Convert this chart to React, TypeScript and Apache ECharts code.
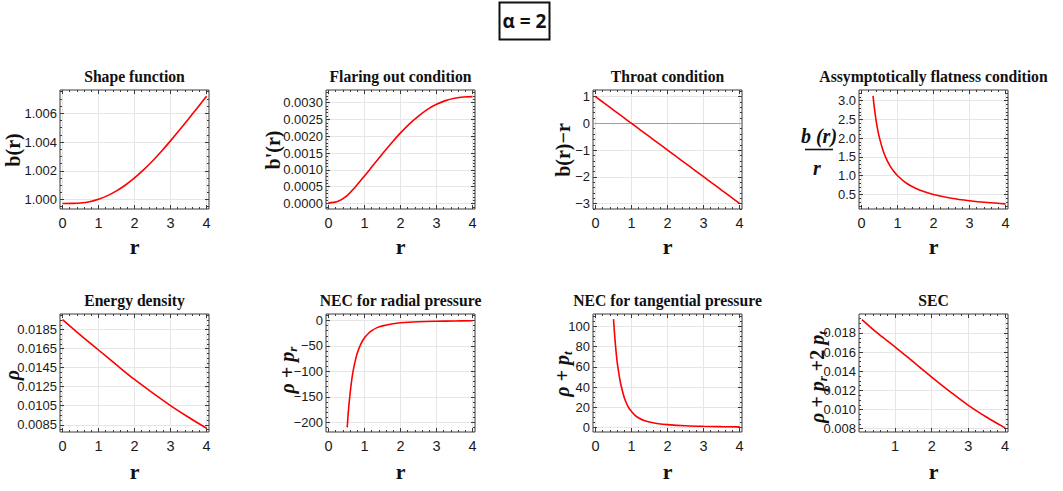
import React, { useEffect, useRef } from 'react';
import * as echarts from 'echarts';

// ---------- data ----------
const R_GRID = [0, 0.25, 0.5, 0.75, 1, 1.25, 1.5, 1.75, 2, 2.25, 2.5, 2.75, 3, 3.25, 3.5, 3.75, 4];
const shapeValues = [0.99972, 0.99973, 0.99976, 0.99985, 1.00002, 1.00027, 1.0006, 1.00101, 1.0015, 1.00206, 1.00268, 1.00336, 1.00408, 1.00483, 1.0056, 1.00639, 1.00718];
const flareValues = [0.00002, 0.00006, 0.00022, 0.0005, 0.00082, 0.00115, 0.00148, 0.0018, 0.0021, 0.00237, 0.0026, 0.0028, 0.00295, 0.00306, 0.00313, 0.00317, 0.00318];
const throatValues = [0.9997, 0.7497, 0.4998, 0.2499, 0.0, -0.2497, -0.4994, -0.749, -0.9985, -1.2479, -1.4973, -1.7466, -1.9959, -2.2452, -2.4944, -2.7436, -2.9928];
const flatR = [0.32, 0.35, 0.4, 0.45, 0.5, 0.6, 0.7, 0.8, 0.9, 1, 1.25, 1.5, 1.75, 2, 2.5, 3, 3.5, 4];
const flatValues = [3.124, 2.856, 2.499, 2.222, 2.0, 1.666, 1.428, 1.25, 1.111, 1.0, 0.8, 0.667, 0.572, 0.501, 0.401, 0.335, 0.287, 0.252];
const rhoR = [0, 0.5, 1, 1.5, 2, 2.5, 3, 3.5, 4];
const rhoValues = [0.01956, 0.01793, 0.01636, 0.01479, 0.01326, 0.01186, 0.01052, 0.00929, 0.00814];
const necRadR = [0.52, 0.55, 0.6, 0.65, 0.7, 0.8, 0.9, 1.0, 1.1, 1.2, 1.35, 1.5, 1.75, 2, 2.5, 3, 3.5, 4];
const necRadValues = [-210, -180, -143, -114, -93, -64, -46, -34, -26, -20, -14, -10.5, -6.8, -4.4, -2.4, -1.4, -0.9, -0.6];
const necTanR = [0.5, 0.55, 0.6, 0.65, 0.7, 0.8, 0.9, 1.0, 1.1, 1.2, 1.35, 1.5, 1.75, 2, 2.5, 3, 3.5, 4];
const necTanValues = [107, 83, 65, 53, 43, 29.5, 21, 15.8, 12, 9.5, 7, 5.5, 3.9, 3.0, 1.9, 1.3, 1.0, 0.8];
const secR = [0.1, 0.5, 1, 1.5, 2, 2.5, 3, 3.5, 4];
const secValues = [0.0194, 0.01806, 0.01656, 0.01498, 0.0134, 0.01188, 0.01044, 0.0092, 0.00809];

// tick labels
const xTicks = [0, 1, 2, 3, 4];
const secXTicks = [1, 2, 3, 4];
const shapeTicks = [1.0, 1.002, 1.004, 1.006];
const flareTicks = [0, 0.0005, 0.001, 0.0015, 0.002, 0.0025, 0.003];
const throatTicks = [-3, -2, -1, 0, 1];
const flatTicks = [0.5, 1.0, 1.5, 2.0, 2.5, 3.0];
const rhoTicks = [0.0085, 0.0105, 0.0125, 0.0145, 0.0165, 0.0185];
const necRadTicks = [-200, -150, -100, -50, 0];
const necTanTicks = [0, 20, 40, 60, 80, 100];
const secTicks = [0.008, 0.01, 0.012, 0.014, 0.016, 0.018];

const titles = [
  'Shape function',
  'Flaring out condition',
  'Throat condition',
  'Assymptotically flatness condition',
  'Energy density',
  'NEC for radial pressure',
  'NEC for tangential pressure',
  'SEC',
];

// ---------- layout / style ----------
const LEFTS = [60, 326, 593, 859];
const TOPS = [90, 314];
const HEIGHTS = [119, 118];
const W = 149;
const LABEL_FONT = "'Liberation Sans', Arial, sans-serif";
const SERIF = "'Liberation Serif', 'DejaVu Serif', serif";
const FRAME = '#3a3a3a';
const GRIDC = '#e6e6e6';

const fmtMinus = (s: string) => s.replace('-', '\u2212');

function minorTicks(min: number, max: number, step: number, major: number[]) {
  const out: number[] = [];
  const start = Math.ceil(min / step - 1e-9);
  for (let k = start; k * step <= max + 1e-12; k++) {
    const v = +(k * step).toFixed(10);
    if (!major.some((m) => Math.abs(m - v) < step * 1e-3)) out.push(v);
  }
  return out;
}

type Panel = {
  xs: number[];
  ys: number[];
  xMin: number;
  xMax: number;
  xT: number[];
  yMin: number;
  yMax: number;
  yT: number[];
  yMinor: number;
  yFmt: (v: number) => string;
  zero?: boolean;
};

const panels: Panel[] = [
  { xs: R_GRID, ys: shapeValues, xMin: -0.07, xMax: 4.07, xT: xTicks, yMin: 0.99934, yMax: 1.00762, yT: shapeTicks, yMinor: 0.0005, yFmt: (v) => v.toFixed(3) },
  { xs: R_GRID, ys: flareValues, xMin: -0.07, xMax: 4.07, xT: xTicks, yMin: -0.000163, yMax: 0.003376, yT: flareTicks, yMinor: 0.0001, yFmt: (v) => v.toFixed(4) },
  { xs: R_GRID, ys: throatValues, xMin: -0.07, xMax: 4.07, xT: xTicks, yMin: -3.205, yMax: 1.25, yT: throatTicks, yMinor: 0.2, yFmt: (v) => fmtMinus(String(Math.round(v))), zero: true },
  { xs: flatR, ys: flatValues, xMin: -0.07, xMax: 4.07, xT: xTicks, yMin: 0.115, yMax: 3.28, yT: flatTicks, yMinor: 0.1, yFmt: (v) => v.toFixed(1) },
  { xs: rhoR, ys: rhoValues, xMin: -0.07, xMax: 4.07, xT: xTicks, yMin: 0.00774, yMax: 0.020144, yT: rhoTicks, yMinor: 0.0005, yFmt: (v) => v.toFixed(4) },
  { xs: necRadR, ys: necRadValues, xMin: -0.07, xMax: 4.07, xT: xTicks, yMin: -219, yMax: 12.8, yT: necRadTicks, yMinor: 10, yFmt: (v) => fmtMinus(String(Math.round(v))) },
  { xs: necTanR, ys: necTanValues, xMin: -0.07, xMax: 4.07, xT: xTicks, yMin: -4.3, yMax: 112, yT: necTanTicks, yMinor: 5, yFmt: (v) => String(Math.round(v)) },
  { xs: secR, ys: secValues, xMin: 0.02, xMax: 4.08, xT: secXTicks, yMin: 0.00766, yMax: 0.01998, yT: secTicks, yMinor: 0.0005, yFmt: (v) => v.toFixed(3) },
];

function buildAxes(kind: 'x' | 'y', gi: number, min: number, max: number, major: number[], minorStep: number, fmt: (v: number) => string) {
  const minor = minorTicks(min, max, minorStep, major);
  const posA = kind === 'x' ? 'bottom' : 'left';
  const posB = kind === 'x' ? 'top' : 'right';
  const base = { type: 'value', gridIndex: gi, min, max, axisLine: { show: false, onZero: false }, minorTick: { show: false } };
  const tick = (vals: number[], len: number) => ({ show: true, inside: true, length: len, customValues: vals, lineStyle: { color: FRAME, width: 1 } });
  const noLabel = { show: false };
  return [
    {
      ...base,
      position: posA,
      axisTick: tick(major, 4),
      axisLabel: {
        show: true,
        customValues: major,
        formatter: (v: number) => fmt(v),
        fontFamily: LABEL_FONT,
        fontSize: kind === 'x' ? 14.5 : 13,
        color: '#1a1a1a',
        margin: kind === 'x' ? 6 : 3,
      },
      splitLine: { show: true, lineStyle: { color: GRIDC, width: 1 } },
    },
    { ...base, position: posB, axisTick: tick(major, 4), axisLabel: noLabel, splitLine: { show: false } },
    { ...base, position: posA, axisTick: tick(minor, 2), axisLabel: noLabel, splitLine: { show: false } },
    { ...base, position: posB, axisTick: tick(minor, 2), axisLabel: noLabel, splitLine: { show: false } },
  ];
}

function buildOption() {
  const grid: any[] = [];
  const xAxis: any[] = [];
  const yAxis: any[] = [];
  const series: any[] = [];
  const graphic: any[] = [];

  panels.forEach((p, i) => {
    const row = i < 4 ? 0 : 1;
    const col = i % 4;
    grid.push({ left: LEFTS[col], top: TOPS[row], width: W, height: HEIGHTS[row], show: true, borderColor: FRAME, borderWidth: 1, backgroundColor: 'transparent' });
    xAxis.push(...buildAxes('x', i, p.xMin, p.xMax, p.xT, 0.2, (v) => String(Math.round(v))));
    yAxis.push(...buildAxes('y', i, p.yMin, p.yMax, p.yT, p.yMinor, p.yFmt));
    const s: any = {
      type: 'line',
      xAxisIndex: i * 4,
      yAxisIndex: i * 4,
      data: p.xs.map((x, j) => [x, p.ys[j]]),
      symbol: 'none',
      showSymbol: false,
      smooth: 0.35,
      lineStyle: { color: '#ff0000', width: 1.6 },
      z: 5,
      silent: true,
    };
    if (p.zero) {
      s.markLine = { silent: true, symbol: 'none', label: { show: false }, lineStyle: { color: '#a0a0a0', width: 1, type: 'solid' }, data: [{ yAxis: 0 }] };
    }
    series.push(s);

    const cx = LEFTS[col] + W / 2;
    const titleY = row === 0 ? 76 : 300;
    graphic.push({
      type: 'text',
      x: cx,
      y: titleY,
      style: { text: titles[i], textAlign: 'center', textVerticalAlign: 'middle', align: 'center', verticalAlign: 'middle', font: `bold 15.7px ${SERIF}`, fill: '#111' },
    });
    graphic.push({
      type: 'text',
      x: cx,
      y: row === 0 ? 246 : 471,
      style: { text: 'r', textAlign: 'center', textVerticalAlign: 'middle', align: 'center', verticalAlign: 'middle', font: `bold 22px ${SERIF}`, fill: '#111' },
    });
  });

  // y-axis names
  const rich = {
    n: { fontFamily: SERIF, fontWeight: 'bold', fontSize: 20, fill: '#111', color: '#111', lineHeight: 24, verticalAlign: 'middle' },
    i: { fontFamily: SERIF, fontWeight: 'bold', fontStyle: 'italic', fontSize: 20, fill: '#111', color: '#111', lineHeight: 24, verticalAlign: 'middle' },
    s: { fontFamily: SERIF, fontWeight: 'bold', fontStyle: 'italic', fontSize: 13, fill: '#111', color: '#111', lineHeight: 14, verticalAlign: 'bottom' },
    g: { fontFamily: SERIF, fontWeight: 'bold', fontSize: 20, fill: '#111', color: '#111', lineHeight: 24, verticalAlign: 'middle' },
  };
  const yNames: [number, number, string][] = [
    [13, 150, '{n|b(r)}'],
    [273, 150, "{n|b'(r)}"],
    [563, 150, '{n|b(r)\u2212r}'],
    [12, 375, '{i|\u03c1}'],
    [287, 370, '{i|\u03c1}{g| + }{i|p}{s|r}'],
    [562, 374, '{i|\u03c1}{g| + }{i|p}{s|t}'],
    [817, 377, '{i|\u03c1}{g| + }{i|p}{s|r}{g| +2 }{i|p}{s|t}'],
  ];
  yNames.forEach(([x, y, t]) => {
    graphic.push({
      type: 'text',
      x,
      y,
      rotation: Math.PI / 2,
      style: { text: t, rich, textAlign: 'center', textVerticalAlign: 'middle', align: 'center', verticalAlign: 'middle' },
    });
  });
  // fraction b(r)/r
  graphic.push({ type: 'text', x: 819, y: 136, style: { text: 'b (r)', textAlign: 'center', textVerticalAlign: 'middle', align: 'center', verticalAlign: 'middle', font: `italic bold 20px ${SERIF}`, fill: '#111' } });
  graphic.push({ type: 'line', shape: { x1: 805, y1: 149.5, x2: 833, y2: 149.5 }, style: { stroke: '#111', lineWidth: 1.6 } });
  graphic.push({ type: 'text', x: 817, y: 168, style: { text: 'r', textAlign: 'center', textVerticalAlign: 'middle', align: 'center', verticalAlign: 'middle', font: `italic bold 20px ${SERIF}`, fill: '#111' } });

  // alpha box
  graphic.push({ type: 'rect', shape: { x: 499.5, y: 2.5, width: 50, height: 37 }, style: { fill: '#fff', stroke: '#111', lineWidth: 2 } });
  graphic.push({ type: 'text', x: 524.5, y: 21, style: { text: '\u03b1 = 2', textAlign: 'center', textVerticalAlign: 'middle', align: 'center', verticalAlign: 'middle', font: "bold 19px 'Open Sans', 'Noto Sans', sans-serif", fill: '#111' } });

  return { animation: false, backgroundColor: '#fff', grid, xAxis, yAxis, series, graphic };
}

export default function App() {
  const ref = useRef<HTMLDivElement>(null);
  useEffect(() => {
    if (!ref.current) return;
    const chart = echarts.init(ref.current, undefined, { renderer: 'svg' });
    chart.setOption(buildOption() as any);
    return () => chart.dispose();
  }, []);
  return <div ref={ref} style={{ position: 'fixed', left: 0, top: 0, width: 1063, height: 491, background: '#fff' }} />;
}
